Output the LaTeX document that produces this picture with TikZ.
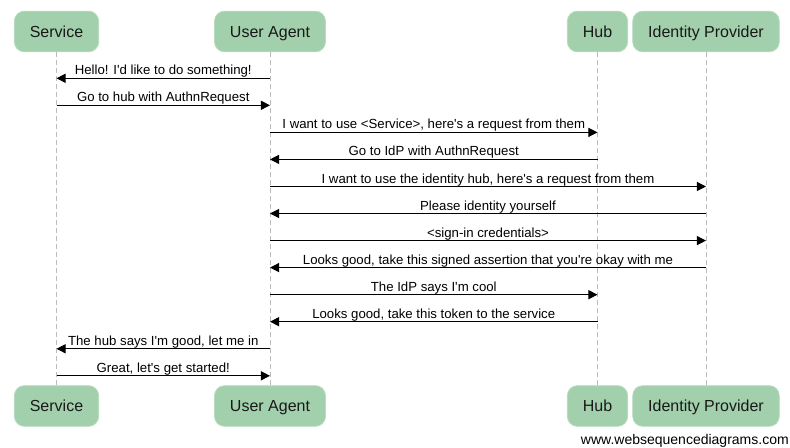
\documentclass[tikz,border=0pt]{standalone}
\usepackage{fontspec}
\setmainfont{Liberation Sans}
\usetikzlibrary{arrows.meta}
\definecolor{boxgreen}{HTML}{A2D0AC}
\definecolor{boxedge}{HTML}{B9DCC1}
\definecolor{lifegray}{HTML}{BBBBBB}
\newcommand{\q}{\textquotesingle}
\begin{document}
\begin{tikzpicture}[x=0.75pt,y=-0.75pt,
  actor/.style={fill=boxgreen, draw=boxedge, line width=0.6pt, rounded corners=7.5pt,
    minimum height=30.5pt, inner xsep=11.6pt, inner ysep=0pt,
    text height=8.6pt, text depth=0pt, text=black!90,
    font=\fontsize{12pt}{14pt}\selectfont},
  life/.style={draw=lifegray, line width=0.75pt, dash pattern=on 3.75pt off 2.25pt},
  msg/.style={line width=0.75pt, -{Triangle[length=6.8pt,width=6.8pt]}},
  lbl/.style={font=\fontsize{9.9pt}{11pt}\selectfont, anchor=base, inner sep=0pt, yshift=2.6pt},
  wmark/.style={font=\fontsize{10.5pt}{12pt}\selectfont, anchor=base east, inner sep=0pt}]
\useasboundingbox (0,0) rectangle (790,448);

% top actors
\node[actor] (sv)  at (56.5,31.5)  {Service};
\node[actor] (ua)  at (270,31.5)   {User Agent};
\node[actor] (hub) at (597.5,31.5) {Hub};
\node[actor] (idp) at (706,31.5)   {Identity Provider};
% bottom actors
\node[actor] (svb)  at (56.5,406)  {Service};
\node[actor] (uab)  at (270,406)   {User Agent};
\node[actor] (hubb) at (597.5,406) {Hub};
\node[actor] (idpb) at (706,406)   {Identity Provider};

% lifelines
\draw[life] (sv.south)  -- (svb.north);
\draw[life] (ua.south)  -- (uab.north);
\draw[life] (hub.south) -- (hubb.north);
\draw[life] (idp.south) -- (idpb.north);

% message rows
\foreach \i/\yy in {1/78.3,2/105.3,3/132.4,4/159.4,5/186.5,6/213.5,7/240.6,8/267.6,9/294.7,10/321.7,11/348.8,12/375.8}
  \coordinate (m\i) at (0,\yy);

\draw[msg] (ua |- m1) -- node[lbl] {Hello! I\q d like to do something!} (sv |- m1);
\draw[msg] (sv |- m2) -- node[lbl] {Go to hub with AuthnRequest} (ua |- m2);
\draw[msg] (ua |- m3) -- node[lbl] {I want to use <Service>, here\q s a request from them} (hub |- m3);
\draw[msg] (hub |- m4) -- node[lbl] {Go to IdP with AuthnRequest} (ua |- m4);
\draw[msg] (ua |- m5) -- node[lbl] {I want to use the identity hub, here\q s a request from them} (idp |- m5);
\draw[msg] (idp |- m6) -- node[lbl] {Please identity yourself} (ua |- m6);
\draw[msg] (ua |- m7) -- node[lbl] {<sign-in credentials>} (idp |- m7);
\draw[msg] (idp |- m8) -- node[lbl] {Looks good, take this signed assertion that you\q re okay with me} (ua |- m8);
\draw[msg] (ua |- m9) -- node[lbl] {The IdP says I\q m cool} (hub |- m9);
\draw[msg] (hub |- m10) -- node[lbl] {Looks good, take this token to the service} (ua |- m10);
\draw[msg] (ua |- m11) -- node[lbl] {The hub says I\q m good, let me in} (sv |- m11);
\draw[msg] (sv |- m12) -- node[lbl] {Great, let\q s get started!} (ua |- m12);

\node[wmark] (wm) at (789,445) {www.websequencediagrams.com};
\end{tikzpicture}
\end{document}
